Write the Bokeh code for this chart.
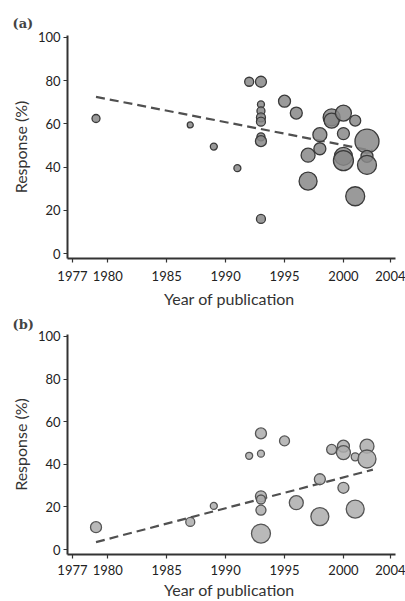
from bokeh.plotting import figure
from bokeh.layouts import column
from bokeh.models import FixedTicker, Range1d
from bokeh.embed import file_html
from bokeh.resources import INLINE

# ---------------- data ----------------
x_ticks = [1977, 1980, 1985, 1990, 1995, 2000, 2004]
y_ticks = [0, 20, 40, 60, 80, 100]

# Panel (a)
year_a = [1979, 1987, 1989, 1991, 1992, 1993, 1993, 1993, 1993, 1993, 1993, 1993, 1993,
          1995, 1996, 1997, 1997, 1998, 1998, 1999, 1999, 2000, 2000, 2000, 2000,
          2001, 2001, 2002, 2002, 2002]
resp_a = [62.5, 59.5, 49.5, 39.5, 79.5, 79.5, 69, 66, 63, 61, 54, 52, 16,
          70.5, 65, 45.5, 33.5, 55, 48.5, 63, 61.5, 65, 55.5, 45, 43,
          61.5, 26.5, 52, 45, 41]
weight_a = [8, 6, 7, 7, 9, 11, 7, 8, 9, 9, 8, 11, 9,
            12, 12, 14, 18, 14, 12, 17, 15, 16, 12, 18, 20,
            11, 19, 24, 12, 19]
trend_year_a = [1979, 2002.5]
trend_resp_a = [72.5, 47.5]

# Panel (b)
year_b = [1979, 1987, 1989, 1992, 1993, 1993, 1993, 1993, 1993, 1993, 1995, 1996,
          1998, 1998, 1999, 2000, 2000, 2000, 2001, 2001, 2002, 2002]
resp_b = [10.5, 13, 20.5, 44, 45, 54.5, 25, 23.5, 18.5, 7.5, 51, 22,
          33, 15.5, 47, 48.5, 45.5, 29, 43.5, 19, 48.5, 42.5]
weight_b = [11, 9, 7, 7, 7, 11, 11, 9, 10, 19, 10, 14,
            11, 18, 10, 12, 14, 11, 8, 18, 14, 18]
trend_year_b = [1979, 2002.5]
trend_resp_b = [3.5, 37.5]

FONT = "Lato"


def make_panel(label, xs, ys, ws, tx, ty, fill, line, height, top, bottom,
               standoff, tick_standoff, label_standoff):
    p = figure(width=405, height=height,
               x_range=Range1d(1976.58, 2004.42), y_range=Range1d(-2.3, 100.9),
               output_backend="svg", toolbar_location=None,
               min_border_left=67, min_border_right=10,
               min_border_top=top, min_border_bottom=bottom,
               title=label)
    p.title.text_font = "DejaVu Serif"
    p.title.text_font_style = "bold"
    p.title.text_font_size = "13px"
    p.title.align = "left"
    p.title.offset = -55
    p.title.standoff = standoff
    p.outline_line_color = None
    p.grid.visible = False

    p.line(tx, ty, line_color="#505050", line_width=2.2, line_dash="9 5")
    p.scatter(xs, ys, size=ws, fill_color=fill, fill_alpha=0.85,
              line_color=line, line_width=1.3)

    for ax in (p.xaxis[0], p.yaxis[0]):
        ax.axis_line_color = "#333333"
        ax.axis_line_width = 2
        ax.major_tick_line_color = "#333333"
        ax.major_tick_line_width = 1.2
        ax.major_tick_out = 4
        ax.major_tick_in = 0
        ax.minor_tick_line_color = None
        ax.major_label_text_font = FONT
        ax.major_label_text_font_size = "13px"
        ax.major_label_text_color = "#222222"
        ax.axis_label_text_font = FONT
        ax.axis_label_text_font_size = "16px"
        ax.axis_label_text_font_style = "normal"
        ax.axis_label_text_color = "#333333"

    p.xaxis.major_label_standoff = tick_standoff
    p.xaxis.axis_label_standoff = label_standoff
    p.yaxis.major_label_standoff = 3
    p.yaxis.axis_label_standoff = 5

    p.xaxis.ticker = FixedTicker(ticks=x_ticks)
    p.yaxis.ticker = FixedTicker(ticks=y_ticks)
    p.xaxis.axis_label = "Year  of publication"
    p.yaxis.axis_label = "Response (%)"
    return p


pa = make_panel("(a)", year_a, resp_a, weight_a, trend_year_a, trend_resp_a,
                "#888888", "#3a3a3a", 311, 35, 53, 10, 8, 5)
pb = make_panel("(b)", year_b, resp_b, weight_b, trend_year_b, trend_resp_b,
                "#adadad", "#555555", 290, 21, 47, 6, 6, 2)

layout = column(pa, pb, spacing=0)
open("out.html", "w").write(file_html(layout, INLINE))
